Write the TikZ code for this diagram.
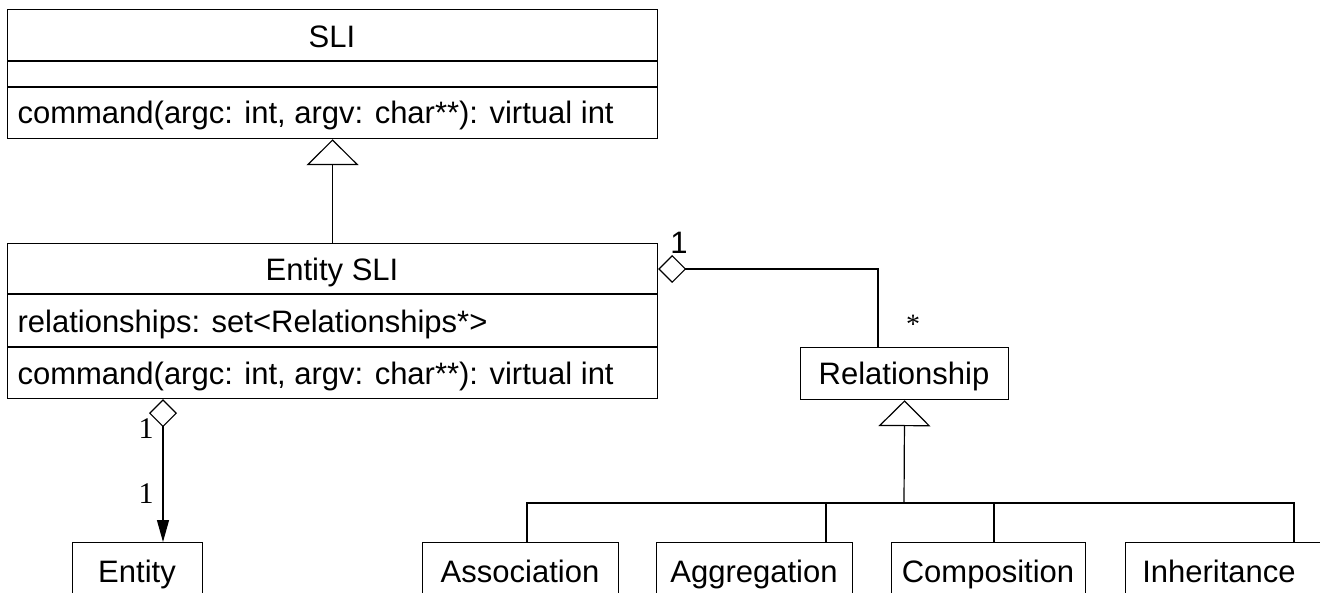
\documentclass[tikz,border=0pt]{standalone}
\usepackage{fontspec}
\setmainfont{Liberation Sans}
\newfontfamily\multfont{Liberation Serif}
\usetikzlibrary{arrows.meta}
\begin{document}
\begin{tikzpicture}[x=1pt,y=-1pt,line width=1.2pt,
  box/.style={draw,inner sep=0pt,anchor=north west},
  lbl/.style={font=\fontsize{31}{35}\selectfont,inner sep=0pt,anchor=base},
  mult/.style={font=\multfont\fontsize{30}{34}\selectfont,inner sep=0pt},
  gen/.style={-{Triangle[open,length=26pt,width=52pt,line width=1.2pt]}},
  agg/.style={{Diamond[open,length=28pt,width=28pt,line width=1.2pt]}-},
  aggnav/.style={{Diamond[open,length=28pt,width=28pt,line width=1.2pt]}-{Triangle[length=22pt,width=12pt]}}]
\useasboundingbox (0,0) rectangle (1320,593);
\clip (0,0) rectangle (1320,593);

% class SLI
\node[box,minimum width=650pt,minimum height=129pt] (sli) at (7,9) {};
\draw (7,61) -- (657,61);
\draw (7,87) -- (657,87);
\node[lbl] (sliname) at (332,48) {SLI};
\node[lbl,anchor=base west] (slimeth) at (17,124) {command(argc: int, argv: char**): virtual int};

% class Entity SLI
\node[box,minimum width=650pt,minimum height=155pt] (esli) at (7,243) {};
\draw (7,294) -- (657,294);
\draw (7,347) -- (657,347);
\node[lbl] (esliname) at (332,281) {Entity SLI};
\node[lbl,anchor=base west] (esliattr) at (17,333) {relationships: set<Relationships*>};
\node[lbl,anchor=base west] (eslimeth) at (17,385) {command(argc: int, argv: char**): virtual int};

% class Relationship
\node[box,minimum width=208pt,minimum height=52pt] (rel) at (800,347) {};
\node[lbl] (relname) at (904,385) {Relationship};

% class Entity
\node[box,minimum width=130pt,minimum height=80pt] (ent) at (72,542) {};
\node[lbl] (entname) at (137,582) {Entity};

% relationship kinds
\node[box,minimum width=196pt,minimum height=80pt] (ass) at (422,542) {};
\node[lbl] (assname) at (520,582) {Association};
\node[box,minimum width=196pt,minimum height=80pt] (aggr) at (656,542) {};
\node[lbl] (aggrname) at (754,582) {Aggregation};
\node[box,minimum width=194pt,minimum height=80pt] (comp) at (891,542) {};
\node[lbl] (compname) at (988,582) {Composition};
\node[box,minimum width=210pt,minimum height=80pt] (inh) at (1125,542) {};
\node[lbl] (inhname) at (1219,582) {Inheritance};

% generalization SLI <- Entity SLI
\draw[gen] (esli.north) -- (sli.south);

% aggregation Entity SLI <>-- Relationship
\draw[agg] ([yshift=-26pt]esli.north east) -| ([xshift=78pt]rel.north west);
\node[lbl,anchor=center] (m1) at (679,243) {1};
\node[mult,font=\multfont\fontsize{28}{32}\selectfont] (m2) at (913,324) {*};

% aggregation Entity SLI <>--> Entity
\draw[aggnav] ([xshift=156pt]esli.south west) -- ([xshift=91pt]ent.north west);
\node[mult] (m3) at (146,429) {1};
\node[mult] (m4) at (146,494) {1};

% generalization tree below Relationship
\coordinate (junc) at (904,503);
\coordinate (tass) at ([xshift=105pt]ass.north west);
\coordinate (taggr) at ([xshift=170pt]aggr.north west);
\coordinate (tcomp) at ([xshift=103pt]comp.north west);
\coordinate (tinh) at ([xshift=169pt]inh.north west);
\draw[gen] (junc) -- (rel.south);
\draw (tass) |- (junc) -| (tinh);
\draw (taggr) -- (taggr |- junc);
\draw (tcomp) -- (tcomp |- junc);
\end{tikzpicture}
\end{document}
